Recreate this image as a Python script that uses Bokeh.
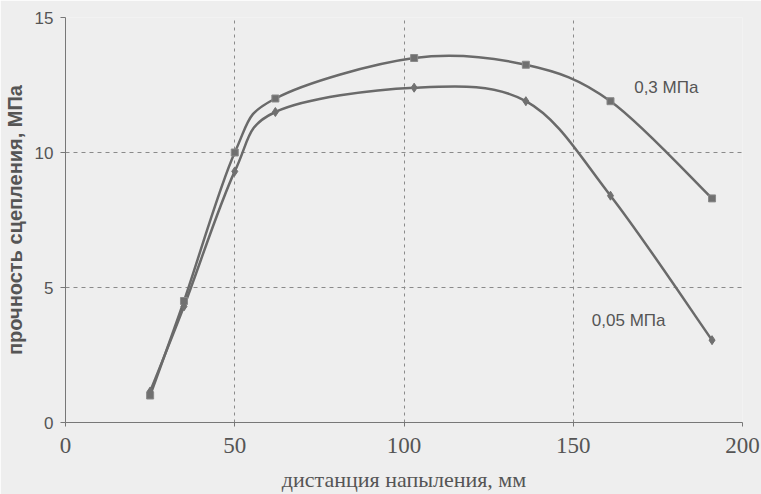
from bokeh.plotting import figure
from bokeh.models import Range1d, FixedTicker, Label
from bokeh.embed import file_html
from bokeh.resources import INLINE

# Data
distance = [25, 35, 50, 62, 103, 136, 161, 191]
strength_03 = [1.0, 4.5, 10.0, 12.0, 13.5, 13.25, 11.9, 8.3]
strength_005 = [1.15, 4.3, 9.3, 11.5, 12.4, 11.9, 8.4, 3.05]
series_labels = ["0,3 МПа", "0,05 МПа"]
x_ticks = [0, 50, 100, 150, 200]
y_ticks = [0, 5, 10, 15]
x_title = "дистанция напыления, мм"
y_title = "прочность сцепления, МПа"

BG = "#eeeeee"
LINE = "#6a6a6a"
TEXT = "#555555"

p = figure(width=761, height=494, output_backend="svg", toolbar_location=None,
           x_range=Range1d(0, 200), y_range=Range1d(0, 15),
           min_border_left=64, min_border_right=19, min_border_top=17, min_border_bottom=70)
p.background_fill_color = BG
p.border_fill_color = BG
p.outline_line_color = None


def smooth_segments(xs, ys, t=1.0 / 6):
    n = len(xs)
    out = dict(x0=[], y0=[], x1=[], y1=[], cx0=[], cy0=[], cx1=[], cy1=[])
    for i in range(n - 1):
        im1 = max(i - 1, 0)
        ip2 = min(i + 2, n - 1)
        out["x0"].append(xs[i]); out["y0"].append(ys[i])
        out["x1"].append(xs[i + 1]); out["y1"].append(ys[i + 1])
        out["cx0"].append(xs[i] + (xs[i + 1] - xs[im1]) * t)
        out["cy0"].append(ys[i] + (ys[i + 1] - ys[im1]) * t)
        out["cx1"].append(xs[i + 1] - (xs[ip2] - xs[i]) * t)
        out["cy1"].append(ys[i + 1] - (ys[ip2] - ys[i]) * t)
    return out


for ys in (strength_03, strength_005):
    seg = smooth_segments(distance, ys)
    p.bezier(x0=seg["x0"], y0=seg["y0"], x1=seg["x1"], y1=seg["y1"],
             cx0=seg["cx0"], cy0=seg["cy0"], cx1=seg["cx1"], cy1=seg["cy1"],
             line_color=LINE, line_width=2.5)

p.scatter(distance, strength_03, marker="square", size=7, fill_color="#707070",
          line_color="#8a8a8a", line_width=1)
p.scatter(distance, strength_005, marker="diamond", size=9, fill_color="#707070",
          line_color="#707070", line_width=1)

p.add_layout(Label(x=168, y=12.4, text=series_labels[0], text_font="Liberation Sans",
                   text_font_size="17px", text_color=TEXT, text_baseline="middle"))
p.add_layout(Label(x=155.5, y=3.77, text=series_labels[1], text_font="Liberation Sans",
                   text_font_size="17px", text_color=TEXT, text_baseline="middle"))

# grids
p.xgrid.ticker = FixedTicker(ticks=x_ticks)
p.ygrid.ticker = FixedTicker(ticks=y_ticks)
p.xgrid.grid_line_color = "#8a8a8a"
p.xgrid.grid_line_dash = "3 4"
p.xgrid.grid_line_width = 1
p.ygrid.grid_line_color = "#8a8a8a"
p.ygrid.grid_line_dash = "4 4"
p.ygrid.grid_line_width = 1

# axes
p.xaxis.ticker = FixedTicker(ticks=x_ticks)
p.yaxis.ticker = FixedTicker(ticks=y_ticks)
p.xaxis.minor_tick_line_color = None
p.yaxis.minor_tick_line_color = None
for ax in (p.xaxis, p.yaxis):
    ax.axis_line_color = "#777777"
    ax.major_tick_line_color = "#777777"
    ax.major_tick_in = 0
    ax.major_label_text_color = TEXT
    ax.axis_label_text_color = TEXT
p.yaxis.major_tick_out = 5
p.xaxis.major_tick_out = 4

p.xaxis.axis_label = x_title
p.xaxis.axis_label_text_font = "Liberation Serif"
p.xaxis.axis_label_text_font_style = "normal"
p.xaxis.axis_label_text_font_size = "22px"
p.xaxis.axis_label_standoff = 11
p.xaxis.major_label_text_font = "Liberation Serif"
p.xaxis.major_label_text_font_size = "23px"
p.xaxis.major_label_standoff = 11

p.yaxis.axis_label = y_title
p.yaxis.axis_label_text_font = "Liberation Sans"
p.yaxis.axis_label_text_font_style = "bold"
p.yaxis.axis_label_text_font_size = "20px"
p.yaxis.axis_label_standoff = 6
p.yaxis.major_label_text_font = "Liberation Sans"
p.yaxis.major_label_text_font_size = "17px"
p.yaxis.major_label_standoff = 7

open("out.html", "w").write(file_html(p, INLINE))
